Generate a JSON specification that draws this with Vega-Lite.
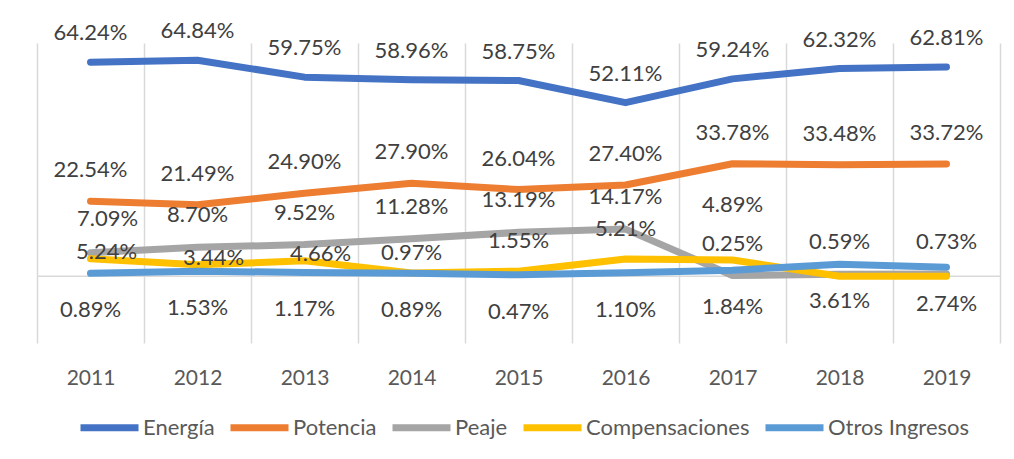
{
  "$schema": "https://vega.github.io/schema/vega-lite/v6.json",
  "width": 963,
  "height": 300,
  "autosize": {"type": "none"},
  "padding": {"left": 37, "top": 43, "right": 14, "bottom": 116},
  "background": "white",
  "config": {"view": {"stroke": null}, "font": "Lato"},
  "data": {
    "values": [
      {"year": "2011", "series": "Energía", "value": 0.6424},
      {"year": "2012", "series": "Energía", "value": 0.6484},
      {"year": "2013", "series": "Energía", "value": 0.5975},
      {"year": "2014", "series": "Energía", "value": 0.5896},
      {"year": "2015", "series": "Energía", "value": 0.5875},
      {"year": "2016", "series": "Energía", "value": 0.5211},
      {"year": "2017", "series": "Energía", "value": 0.5924},
      {"year": "2018", "series": "Energía", "value": 0.6232},
      {"year": "2019", "series": "Energía", "value": 0.6281},
      {"year": "2011", "series": "Potencia", "value": 0.2254},
      {"year": "2012", "series": "Potencia", "value": 0.2149},
      {"year": "2013", "series": "Potencia", "value": 0.2490},
      {"year": "2014", "series": "Potencia", "value": 0.2790},
      {"year": "2015", "series": "Potencia", "value": 0.2604},
      {"year": "2016", "series": "Potencia", "value": 0.2740},
      {"year": "2017", "series": "Potencia", "value": 0.3378},
      {"year": "2018", "series": "Potencia", "value": 0.3348},
      {"year": "2019", "series": "Potencia", "value": 0.3372},
      {"year": "2011", "series": "Peaje", "value": 0.0709},
      {"year": "2012", "series": "Peaje", "value": 0.0870},
      {"year": "2013", "series": "Peaje", "value": 0.0952},
      {"year": "2014", "series": "Peaje", "value": 0.1128},
      {"year": "2015", "series": "Peaje", "value": 0.1319},
      {"year": "2016", "series": "Peaje", "value": 0.1417},
      {"year": "2017", "series": "Peaje", "value": 0.0025},
      {"year": "2018", "series": "Peaje", "value": 0.0059},
      {"year": "2019", "series": "Peaje", "value": 0.0073},
      {"year": "2011", "series": "Compensaciones", "value": 0.0524},
      {"year": "2012", "series": "Compensaciones", "value": 0.0344},
      {"year": "2013", "series": "Compensaciones", "value": 0.0466},
      {"year": "2014", "series": "Compensaciones", "value": 0.0097},
      {"year": "2015", "series": "Compensaciones", "value": 0.0155},
      {"year": "2016", "series": "Compensaciones", "value": 0.0521},
      {"year": "2017", "series": "Compensaciones", "value": 0.0489},
      {"year": "2018", "series": "Compensaciones", "value": 0},
      {"year": "2019", "series": "Compensaciones", "value": 0},
      {"year": "2011", "series": "Otros Ingresos", "value": 0.0089},
      {"year": "2012", "series": "Otros Ingresos", "value": 0.0153},
      {"year": "2013", "series": "Otros Ingresos", "value": 0.0117},
      {"year": "2014", "series": "Otros Ingresos", "value": 0.0089},
      {"year": "2015", "series": "Otros Ingresos", "value": 0.0047},
      {"year": "2016", "series": "Otros Ingresos", "value": 0.0110},
      {"year": "2017", "series": "Otros Ingresos", "value": 0.0184},
      {"year": "2018", "series": "Otros Ingresos", "value": 0.0361},
      {"year": "2019", "series": "Otros Ingresos", "value": 0.0274}
    ]
  },
  "layer": [
    {
      "data": {"values": [{"base": 0}]},
      "mark": {"type": "rule", "color": "#d9d9d9", "strokeWidth": 1.5},
      "encoding": {
        "y": {"field": "base", "type": "quantitative", "scale": {"domain": [-0.2, 0.7], "nice": false, "zero": false}, "axis": null}
      }
    },
    {
      "mark": {"type": "line", "strokeWidth": 7, "strokeCap": "round", "strokeJoin": "round"},
      "encoding": {
        "x": {
          "field": "year", "type": "ordinal",
          "scale": {"type": "band", "paddingInner": 0, "paddingOuter": 0},
          "axis": {
            "title": null, "orient": "bottom", "domain": false, "grid": false,
            "ticks": true, "tickBand": "extent", "tickSize": -300,
            "tickColor": "#d9d9d9", "tickWidth": 1.5,
            "labelPadding": 324, "labelFontSize": 21, "labelColor": "#595959",
            "labelFont": "Lato", "labelAngle": 0
          }
        },
        "y": {"field": "value", "type": "quantitative", "scale": {"domain": [-0.2, 0.7], "nice": false, "zero": false}, "axis": null},
        "color": {
          "field": "series", "type": "nominal",
          "scale": {
            "domain": ["Energía", "Potencia", "Peaje", "Compensaciones", "Otros Ingresos"],
            "range": ["#4472C4", "#ED7D31", "#A5A5A5", "#FFC000", "#5B9BD5"]
          },
          "legend": {
            "orient": "bottom", "direction": "horizontal", "title": null,
            "symbolType": "stroke", "symbolSize": 3364, "symbolStrokeWidth": 7,
            "labelFontSize": 22, "labelColor": "#595959", "labelFont": "Lato",
            "labelLimit": 400, "columnPadding": 1, "labelOffset": 1,
            "padding": 40, "offset": -33
          }
        }
      }
    },
    {
      "encoding": {
        "x": {"field": "year", "type": "ordinal"},
        "y": {"field": "value", "type": "quantitative", "axis": null},
        "text": {"field": "value", "type": "quantitative", "format": ".2%"}
      },
      "layer": [
        {
          "transform": [{"filter": {"field": "series", "equal": "Energía"}}],
          "mark": {"type": "text", "font": "Lato", "fontSize": 22, "color": "#404040", "dy": -29}
        },
        {
          "transform": [{"filter": {"field": "series", "equal": "Potencia"}}],
          "mark": {"type": "text", "font": "Lato", "fontSize": 22, "color": "#404040", "dy": -31}
        },
        {
          "transform": [{"filter": {"and": [{"field": "series", "equal": "Peaje"}, {"not": {"field": "year", "equal": "2011"}}]}}],
          "mark": {"type": "text", "font": "Lato", "fontSize": 22, "color": "#404040", "dy": -32}
        },
        {
          "transform": [{"filter": {"and": [{"field": "series", "equal": "Peaje"}, {"field": "year", "equal": "2011"}]}}],
          "mark": {"type": "text", "font": "Lato", "fontSize": 22, "color": "#404040", "dy": -34, "dx": 17}
        },
        {
          "transform": [{"filter": {"and": [{"field": "series", "equal": "Compensaciones"}, {"field": "year", "oneOf": ["2011", "2012", "2013"]}]}}],
          "mark": {"type": "text", "font": "Lato", "fontSize": 22, "color": "#404040", "dy": -7, "dx": 16}
        },
        {
          "transform": [{"filter": {"and": [{"field": "series", "equal": "Compensaciones"}, {"field": "year", "equal": "2014"}]}}],
          "mark": {"type": "text", "font": "Lato", "fontSize": 22, "color": "#404040", "dy": -20}
        },
        {
          "transform": [{"filter": {"and": [{"field": "series", "equal": "Compensaciones"}, {"field": "year", "oneOf": ["2015", "2016"]}]}}],
          "mark": {"type": "text", "font": "Lato", "fontSize": 22, "color": "#404040", "dy": -30}
        },
        {
          "transform": [{"filter": {"and": [{"field": "series", "equal": "Compensaciones"}, {"field": "year", "equal": "2017"}]}}],
          "mark": {"type": "text", "font": "Lato", "fontSize": 22, "color": "#404040", "dy": -55}
        },
        {
          "transform": [{"filter": {"field": "series", "equal": "Otros Ingresos"}}],
          "mark": {"type": "text", "font": "Lato", "fontSize": 22, "color": "#404040", "dy": 37}
        }
      ]
    }
  ]
}
